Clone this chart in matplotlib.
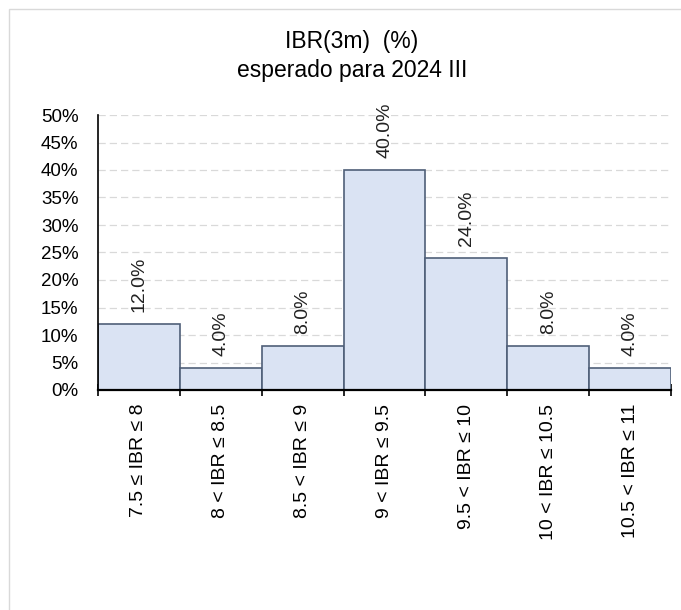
import matplotlib

matplotlib.use('Agg')
import matplotlib.pyplot as plt
from matplotlib.patches import Rectangle
from matplotlib.ticker import FuncFormatter, MultipleLocator

plt.rcParams['font.family'] = ['Liberation Sans', 'DejaVu Sans']

# bins of the expected IBR(3m) distribution
categories = ["7.5 ≤ IBR ≤ 8", "8 < IBR ≤ 8.5", "8.5 < IBR ≤ 9", "9 < IBR ≤ 9.5",
              "9.5 < IBR ≤ 10", "10 < IBR ≤ 10.5", "10.5 < IBR ≤ 11"]
shares = [12.0, 4.0, 8.0, 40.0, 24.0, 8.0, 4.0]
title_lines = ["IBR(3m)  (%)", "esperado para 2024 III"]

fig = plt.figure(figsize=(6.81, 6.10), dpi=100)
fig.patches.append(Rectangle((9 / 681, -0.1), 1.2, 1.1 - 9 / 610, transform=fig.transFigure,
                             fill=False, edgecolor='#d9d9d9', linewidth=1.0))
ax = fig.add_axes([98 / 681, 1 - 390 / 610, 573 / 681, 275 / 610])

x = list(range(len(shares)))
ax.bar(x, [s / 100 for s in shares], width=1.0, color='#dae3f3', edgecolor='#4f5f78',
       linewidth=1.2, zorder=2)

# rotated value labels over each bar
for xi, s in zip(x, shares):
    ax.annotate(f"{s:.1f}%", (xi, s / 100), xytext=(0, 9), textcoords='offset points',
                rotation=90, ha='center', va='bottom', fontsize=14, color='#222222')

ax.set_xlim(-0.5, len(shares) - 0.5)
ax.set_ylim(0, 0.5)
ax.yaxis.set_major_locator(MultipleLocator(0.05))
ax.yaxis.set_major_formatter(FuncFormatter(lambda v, p: f"{v * 100:.0f}%"))
ax.grid(axis='y', color='#d9d9d9', linestyle=(0, (5.8, 3.2)), linewidth=0.9, zorder=0)

ax.set_xticks([i - 0.5 for i in range(len(shares) + 1)])
ax.set_xticklabels([])
ax.set_xticks(x, minor=True)
ax.set_xticklabels(categories, minor=True, rotation=90, fontsize=14, va='top', ha='center')
ax.tick_params(axis='x', which='minor', length=0, pad=10)
ax.tick_params(axis='x', which='major', direction='inout', length=8, width=1.2)
ax.tick_params(axis='y', length=0, labelsize=13.5, pad=14)

for side in ['top', 'right']:
    ax.spines[side].set_visible(False)
ax.spines['left'].set_linewidth(1.2)
ax.spines['bottom'].set_linewidth(1.6)

fig.text(0.517, 1 - 48 / 610, title_lines[0], ha='center', va='baseline', fontsize=16.5)
fig.text(0.517, 1 - 77 / 610, title_lines[1], ha='center', va='baseline', fontsize=16.5)

plt.savefig('out.png', dpi=100)
